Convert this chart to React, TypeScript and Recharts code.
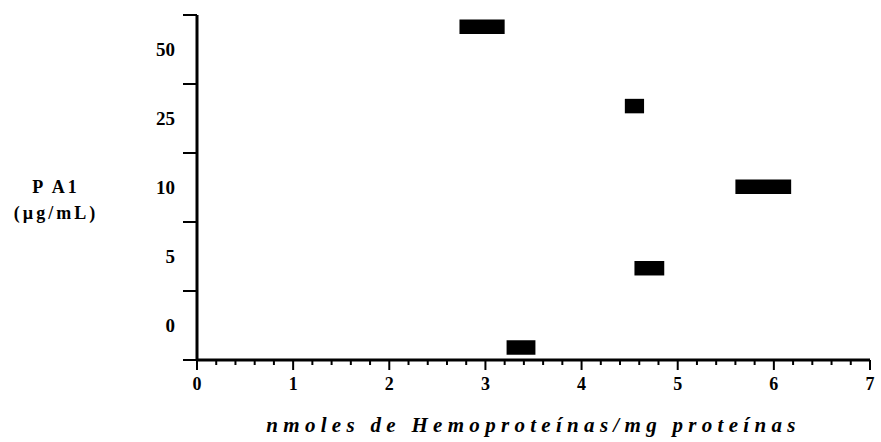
import { ComposedChart, XAxis, YAxis, ReferenceArea, Scatter } from "recharts";

// y categories (bottom to top), one band each
const yLabels = ["0", "5", "10", "25", "50"];
// integer x ticks with labels
const xMajor = [0, 1, 2, 3, 4, 5, 6, 7];

// each black box: x range and band position (in band units from the bottom)
const xLow = [2.73, 4.45, 5.6, 4.55, 3.22];
const xHigh = [3.2, 4.65, 6.18, 4.86, 3.52];
const yMid = [4.83, 3.68, 2.51, 1.33, 0.18];

const rows = xLow.map((lo, i) => ({ x: (lo + xHigh[i]) / 2, y: yMid[i] }));

const BOX_HALF = 0.105;
const FONT = "'Liberation Serif', 'DejaVu Serif', serif";

const xTicks: number[] = [];
xMajor.forEach((m, i) => {
  xTicks.push(m);
  if (i < xMajor.length - 1) {
    for (let k = 1; k < 5; k++) xTicks.push(m + k / 5);
  }
});

const yTicks: number[] = [];
for (let i = 0; i <= yLabels.length; i++) {
  yTicks.push(i);
  if (i < yLabels.length) yTicks.push(i + 0.5);
}

const YTick = (props: any) => {
  const { x, y, payload } = props;
  const v = payload.value;
  if (Number.isInteger(v)) {
    return <line x1={x - 14} x2={x} y1={y} y2={y} stroke="#000" strokeWidth={2} />;
  }
  return (
    <text
      x={x - 22}
      y={y}
      dy={6}
      textAnchor="end"
      fontFamily={FONT}
      fontWeight="bold"
      fontSize={19}
      fill="#000"
    >
      {yLabels[Math.floor(v)]}
    </text>
  );
};

const XTick = (props: any) => {
  const { x, y, payload } = props;
  const v = payload.value;
  const major = Math.abs(v - Math.round(v)) < 1e-6;
  return (
    <g>
      <line x1={x} x2={x} y1={y} y2={y + (major ? 10 : 5)} stroke="#000" strokeWidth={2} />
      {major && (
        <text
          x={x}
          y={y + 30}
          textAnchor="middle"
          fontFamily={FONT}
          fontWeight="bold"
          fontSize={18}
          fill="#000"
        >
          {Math.round(v)}
        </text>
      )}
    </g>
  );
};

export default function App() {
  return (
    <div style={{ position: "absolute", left: 0, top: 0, width: 881, height: 442, background: "#fff" }}>
      <ComposedChart
        width={881}
        height={442}
        data={rows}
        margin={{ top: 15, right: 11, bottom: 52, left: 137 }}
      >
        <XAxis
          type="number"
          dataKey="x"
          domain={[0, 7]}
          ticks={xTicks}
          interval={0}
          height={30}
          tickSize={0}
          tickMargin={0}
          tickLine={false}
          tick={XTick}
          axisLine={{ stroke: "#000", strokeWidth: 3 }}
          allowDataOverflow
        />
        <YAxis
          type="number"
          dataKey="y"
          domain={[0, yLabels.length]}
          ticks={yTicks}
          interval={0}
          width={60}
          tickSize={0}
          tickMargin={0}
          tickLine={false}
          tick={YTick}
          axisLine={{ stroke: "#000", strokeWidth: 3 }}
          allowDataOverflow
        />
        <Scatter data={rows} dataKey="y" shape={() => null} isAnimationActive={false} />
        {xLow.map((lo, i) => (
          <ReferenceArea
            key={i}
            x1={lo}
            x2={xHigh[i]}
            y1={yMid[i] - BOX_HALF}
            y2={yMid[i] + BOX_HALF}
            fill="#000"
            fillOpacity={1}
            stroke="none"
            ifOverflow="visible"
          />
        ))}
      </ComposedChart>
      <div
        style={{
          position: "absolute",
          left: 0,
          top: 174,
          width: 112,
          textAlign: "center",
          fontFamily: FONT,
          fontWeight: "bold",
          fontSize: 18,
          letterSpacing: 3,
          lineHeight: "26px",
        }}
      >
        <div>P A1</div>
        <div>(µg/mL)</div>
      </div>
      <div
        style={{
          position: "absolute",
          left: 197,
          width: 673,
          top: 413,
          textAlign: "center",
          fontFamily: FONT,
          fontWeight: "bold",
          fontStyle: "italic",
          fontSize: 21,
          letterSpacing: 5.3,
        }}
      >
        nmoles de Hemoproteínas/mg proteínas
      </div>
    </div>
  );
}
